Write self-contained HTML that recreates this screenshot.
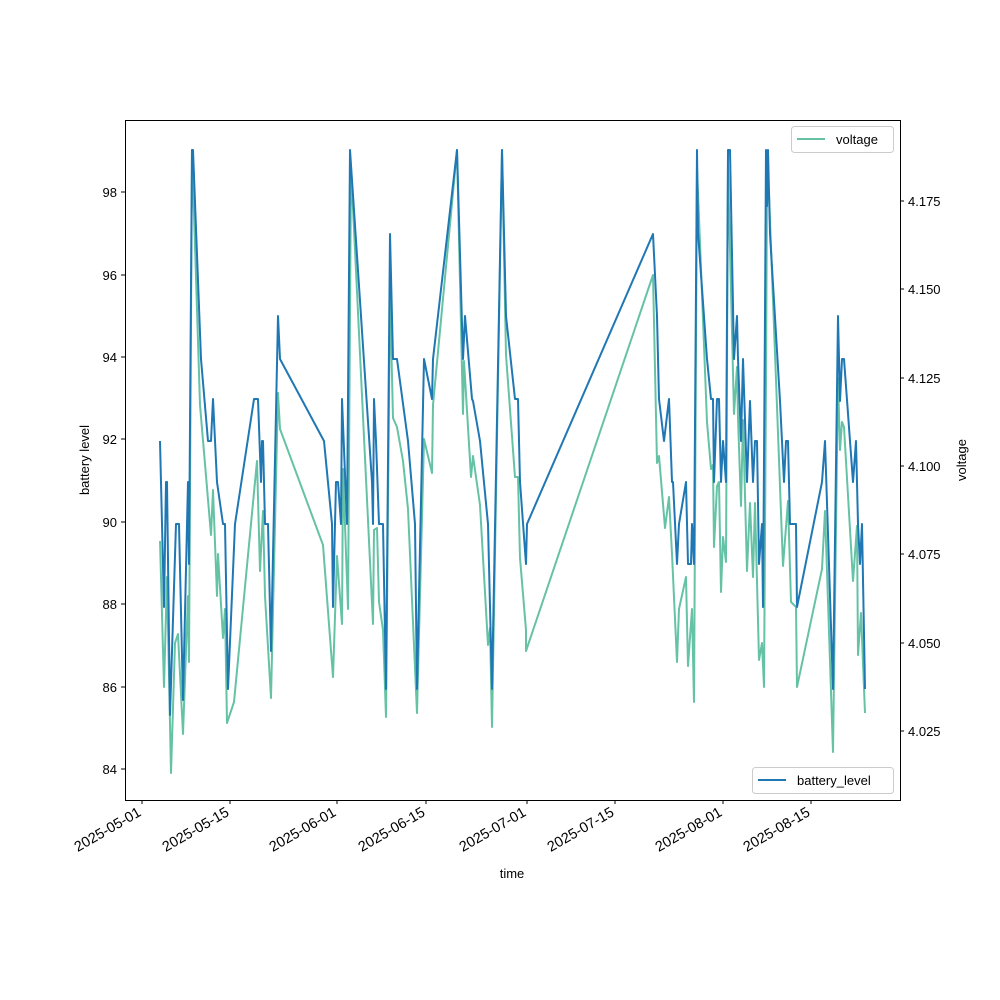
<!DOCTYPE html>
<html><head><meta charset="utf-8"><style>body{margin:0;background:#fff}svg{display:block;font-family:"Liberation Sans","DejaVu Sans",sans-serif}</style></head><body>
<svg width="1000" height="1000" xmlns="http://www.w3.org/2000/svg">
<rect width="1000" height="1000" fill="#fff"/>
<g fill="none" stroke-linejoin="round" stroke-width="2">
<polyline stroke="#66c2a5" points="160,541 164,687 167,577 171,773 175,643 178,634 183,734 188,596 189,662 192,150 200,405 211,535 213,490 217,596 218,554 223,638 225,609 227,723 234,702 257,461 260,571 263,511 265,596 271,698 278,393 280,429 323,545 333,677 337,556 342,624 343,469 348,609 351,167 373,624 374,530 377,528 379,602 383,630 386,717 390,293 393,418 397,427 403,461 408,509 417,713 424,439 432,473 433,405 457,150 463,414 464,361 471,477 473,456 480,505 488,645 490,628 492,727 502,150 506,355 515,477 518,477 520,558 526,630 526,651 653,275 657,463 659,456 665,528 669,497 672,554 677,662 679,609 686,577 688,666 692,609 694,702 697,167 707,422 711,469 713,465 714,547 717,486 719,482 721,592 723,537 726,562 728,167 734,414 737,367 738,418 741,506 743,420 747,571 750,503 753,577 755,503 759,660 762,643 764,687 766,380 767,181 769,194 783,566 788,501 791,602 796,607 797,687 822,569 825,511 833,752 838,378 840,450 842,422 844,427 853,581 857,526 858,655 861,613 865,713"/>
<polyline stroke="#1f77b4" points="160,441 164,607 166,482 167,482 170,715 176,524 179,524 183,700 188,482 189,564 192,150 193,150 201,359 208,441 211,441 213,399 217,482 223,524 225,524 228,689 235,524 254,399 258,399 261,482 262,441 263,441 265,524 268,524 271,651 278,316 280,359 324,441 332,524 333,607 336,482 338,482 341,524 342,399 347,524 350,150 372,482 373,524 374,399 376,441 379,524 383,524 386,689 390,234 393,359 397,359 408,441 415,524 417,689 424,359 432,399 433,359 457,150 463,359 465,316 472,399 473,401 480,441 488,524 492,689 502,150 506,316 515,399 518,399 520,482 526,564 527,524 653,234 657,316 659,399 664,441 669,399 672,482 673,482 677,564 679,524 686,482 688,564 691,564 692,524 694,564 697,150 698,232 707,359 711,399 713,399 714,482 717,399 719,399 721,482 723,441 726,482 728,150 730,150 734,359 737,316 738,359 741,441 743,359 747,482 750,401 753,482 755,441 757,441 759,564 762,524 763,607 765,316 766,150 767,206 768,150 770,234 780,401 784,482 786,441 788,441 790,524 796,524 797,607 822,482 825,441 833,689 838,316 840,401 842,359 844,359 853,482 856,441 858,524 860,564 862,524 865,689"/>
</g>
<rect x="125.5" y="120.5" width="775" height="680" fill="none" stroke="#000" stroke-width="1"/>
<g stroke="#000" stroke-width="1">
<line x1="125" y1="769" x2="121" y2="769"/><line x1="125" y1="687" x2="121" y2="687"/><line x1="125" y1="604" x2="121" y2="604"/><line x1="125" y1="522" x2="121" y2="522"/><line x1="125" y1="439" x2="121" y2="439"/><line x1="125" y1="357" x2="121" y2="357"/><line x1="125" y1="275" x2="121" y2="275"/><line x1="125" y1="192" x2="121" y2="192"/>
<line x1="900" y1="731" x2="904" y2="731"/><line x1="900" y1="643" x2="904" y2="643"/><line x1="900" y1="554" x2="904" y2="554"/><line x1="900" y1="466" x2="904" y2="466"/><line x1="900" y1="378" x2="904" y2="378"/><line x1="900" y1="289" x2="904" y2="289"/><line x1="900" y1="201" x2="904" y2="201"/>
<line x1="142" y1="800" x2="142" y2="804"/><line x1="230" y1="800" x2="230" y2="804"/><line x1="337" y1="800" x2="337" y2="804"/><line x1="426" y1="800" x2="426" y2="804"/><line x1="527" y1="800" x2="527" y2="804"/><line x1="615" y1="800" x2="615" y2="804"/><line x1="723" y1="800" x2="723" y2="804"/><line x1="811" y1="800" x2="811" y2="804"/>
</g>
<g font-size="13" fill="#000" text-anchor="end">
<text x="117" y="774">84</text><text x="117" y="692">86</text><text x="117" y="609">88</text><text x="117" y="527">90</text><text x="117" y="444">92</text><text x="117" y="362">94</text><text x="117" y="280">96</text><text x="117" y="197">98</text>
</g>
<g font-size="13" fill="#000">
<text x="908" y="736">4.025</text><text x="908" y="648">4.050</text><text x="908" y="559">4.075</text><text x="908" y="471">4.100</text><text x="908" y="383">4.125</text><text x="908" y="294">4.150</text><text x="908" y="206">4.175</text>
</g>
<g font-size="14.5" fill="#000" text-anchor="end">
<text transform="translate(142,815) rotate(-30)">2025-05-01</text>
<text transform="translate(230,815) rotate(-30)">2025-05-15</text>
<text transform="translate(337,815) rotate(-30)">2025-06-01</text>
<text transform="translate(426,815) rotate(-30)">2025-06-15</text>
<text transform="translate(527,815) rotate(-30)">2025-07-01</text>
<text transform="translate(615,815) rotate(-30)">2025-07-15</text>
<text transform="translate(723,815) rotate(-30)">2025-08-01</text>
<text transform="translate(811,815) rotate(-30)">2025-08-15</text>
</g>
<text x="512" y="878" font-size="13" text-anchor="middle">time</text>
<text transform="translate(89,460) rotate(-90)" font-size="13" text-anchor="middle">battery level</text>
<text transform="translate(966,460) rotate(-90)" font-size="13" text-anchor="middle">voltage</text>
<rect x="791.5" y="126.5" width="102" height="26" rx="3" fill="#fff" fill-opacity="0.8" stroke="#ccc"/>
<line x1="797" y1="139" x2="825" y2="139" stroke="#66c2a5" stroke-width="2"/>
<text x="836" y="144" font-size="13">voltage</text>
<rect x="752.5" y="767.5" width="141" height="26" rx="3" fill="#fff" fill-opacity="0.8" stroke="#ccc"/>
<line x1="758" y1="780" x2="786" y2="780" stroke="#1f77b4" stroke-width="2"/>
<text x="797" y="785" font-size="13">battery_level</text>
</svg>
</body></html>
